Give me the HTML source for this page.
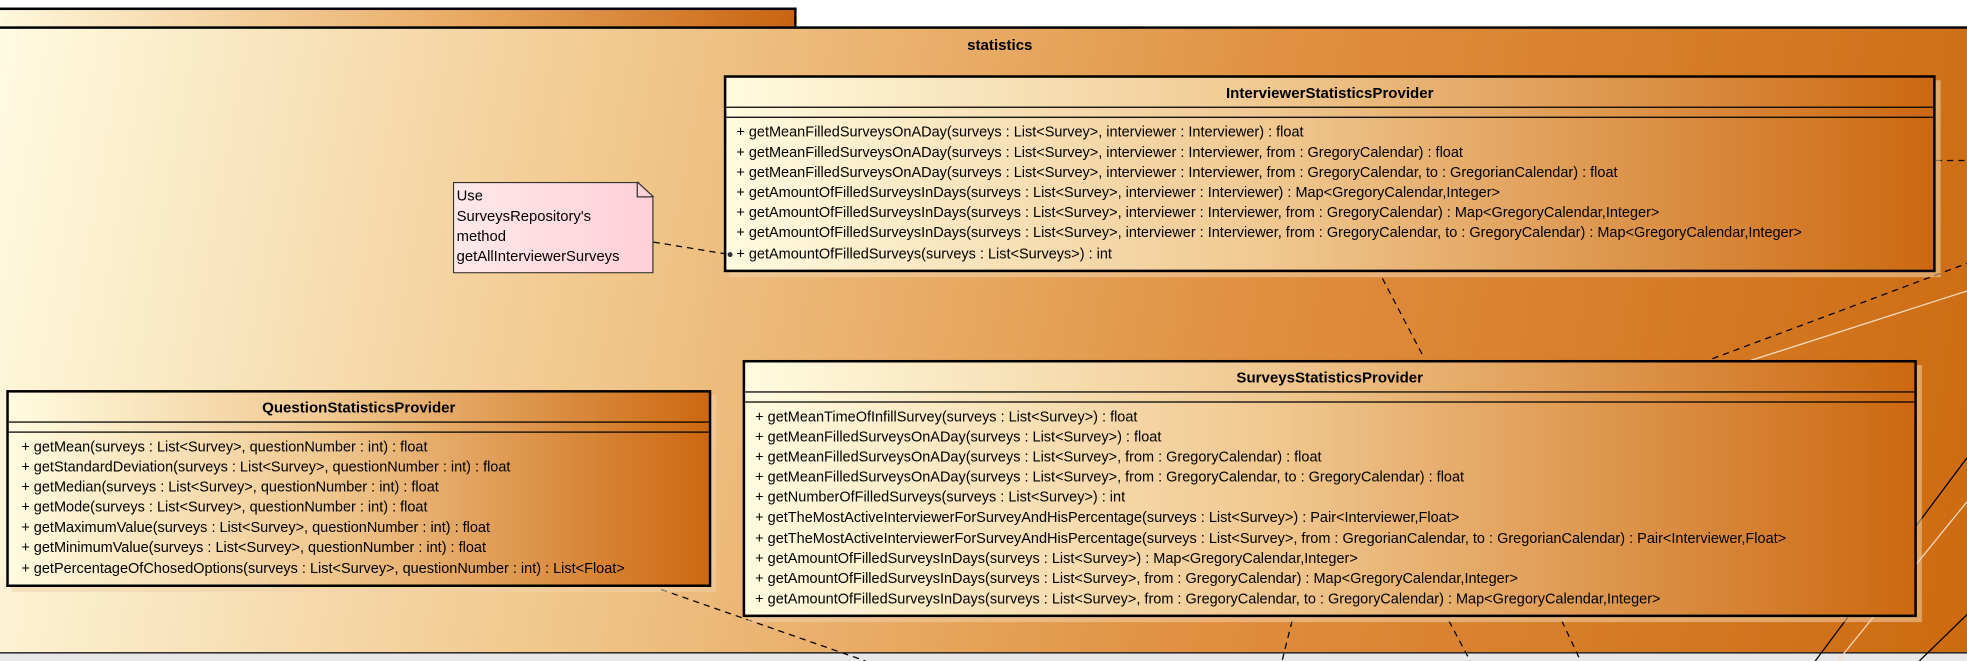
<!DOCTYPE html>
<html><head><meta charset="utf-8"><style>
html,body{margin:0;padding:0;width:1967px;height:661px;overflow:hidden;background:#fff}
#w{position:absolute;left:0;top:0;width:1568px;height:527px;transform-origin:0 0;transform:scale(1.25446,1.25427);font-family:"Liberation Sans",Arial,sans-serif}
.tab{position:absolute;left:-2px;top:6px;width:635px;height:14px;border:2px solid #000;border-left:none;border-bottom:none;background:linear-gradient(90deg,#fff8dc,#e8a860 60%,#c86410)}
.pkg{position:absolute;left:-2px;top:21px;width:1575px;height:497px;border-top:2px solid #000;border-bottom:2px solid #000;background:linear-gradient(100deg,#fffbe2 0%,#f0c68a 32%,#e09040 62%,#cc6a10 100%)}
.below{position:absolute;left:0;top:521px;width:1568px;height:6px;background:#e8e8e8}
.title{position:absolute;left:13px;width:1568px;top:29px;text-align:center;font-weight:bold;font-size:12px}
.box{position:absolute;border:2px solid #000;background:linear-gradient(90deg,#fffbe0 0%,#f0c890 45%,#cc6810 100%);box-shadow:4px 4px 0 rgba(240,210,170,.55)}
.box .h{height:23px;border-bottom:1px solid #000;text-align:center;font-weight:bold;font-size:12px;line-height:25px}
.box .a{height:7px;border-bottom:1px solid #000}
.box .m{padding:4px 0 0 8px;font-size:11.55px;line-height:16.1px;white-space:nowrap}
.note{position:absolute;left:361px;top:145px;width:160px;height:73px;background:linear-gradient(90deg,#ffe8ea,#ffd0d8);border:1px solid #333;font-size:11.8px;line-height:16px;padding:2px 0 0 2px;box-sizing:border-box;clip-path:polygon(0 0,148px 0,160px 12px,160px 100%,0 100%)}
svg{position:absolute;left:0;top:0}
</style></head><body><div id="w">
<div class="tab"></div>
<div class="pkg"></div>
<div class="below"></div>
<div class="title">statistics</div>
<svg width="1568" height="527">
<g stroke="#f5dcc0" stroke-width="1" fill="none">
<line x1="1568" y1="232" x2="1378" y2="293"/>
<line x1="1568" y1="400" x2="1465" y2="527"/>
</g>
<g stroke="#000" stroke-width="1" fill="none" stroke-dasharray="5,4">
<line x1="521" y1="193" x2="582" y2="203"/>
<line x1="1102" y1="222" x2="1135" y2="285"/>
<line x1="1365" y1="286" x2="1568" y2="210"/>
<line x1="1543" y1="128" x2="1568" y2="128"/>
<line x1="527" y1="470" x2="690" y2="527"/>
<line x1="1030" y1="495" x2="1022" y2="527"/>
<line x1="1155" y1="495" x2="1172" y2="527"/>
<line x1="1245" y1="495" x2="1260" y2="527"/>
</g>
<g stroke="#000" stroke-width="1">
<line x1="1568" y1="365" x2="1447" y2="527"/>
<line x1="1568" y1="490" x2="1530" y2="527"/>
</g>
</svg>
<div class="box" style="left:577px;top:60px;width:962px;height:153px">
<div class="h">InterviewerStatisticsProvider</div><div class="a"></div>
<div class="m">+ getMeanFilledSurveysOnADay(surveys : List&lt;Survey&gt;, interviewer : Interviewer) : float<br>+ getMeanFilledSurveysOnADay(surveys : List&lt;Survey&gt;, interviewer : Interviewer, from : GregoryCalendar) : float<br>+ getMeanFilledSurveysOnADay(surveys : List&lt;Survey&gt;, interviewer : Interviewer, from : GregoryCalendar, to : GregorianCalendar) : float<br>+ getAmountOfFilledSurveysInDays(surveys : List&lt;Survey&gt;, interviewer : Interviewer) : Map&lt;GregoryCalendar,Integer&gt;<br>+ getAmountOfFilledSurveysInDays(surveys : List&lt;Survey&gt;, interviewer : Interviewer, from : GregoryCalendar) : Map&lt;GregoryCalendar,Integer&gt;<br>+ getAmountOfFilledSurveysInDays(surveys : List&lt;Survey&gt;, interviewer : Interviewer, from : GregoryCalendar, to : GregoryCalendar) : Map&lt;GregoryCalendar,Integer&gt;<br>+ getAmountOfFilledSurveys(surveys : List&lt;Surveys&gt;) : int</div>
</div>
<div class="note">Use<br>SurveysRepository's<br>method<br>getAllInterviewerSurveys</div>
<svg width="1568" height="527"><path d="M508 145 L508 157 L521 157" fill="none" stroke="#333"/><line x1="508" y1="145" x2="521" y2="157" stroke="#333"/><circle cx="582" cy="203" r="2" fill="#333"/></svg>
<div class="box" style="left:592px;top:287px;width:932px;height:201px">
<div class="h">SurveysStatisticsProvider</div><div class="a"></div>
<div class="m">+ getMeanTimeOfInfillSurvey(surveys : List&lt;Survey&gt;) : float<br>+ getMeanFilledSurveysOnADay(surveys : List&lt;Survey&gt;) : float<br>+ getMeanFilledSurveysOnADay(surveys : List&lt;Survey&gt;, from : GregoryCalendar) : float<br>+ getMeanFilledSurveysOnADay(surveys : List&lt;Survey&gt;, from : GregoryCalendar, to : GregoryCalendar) : float<br>+ getNumberOfFilledSurveys(surveys : List&lt;Survey&gt;) : int<br>+ getTheMostActiveInterviewerForSurveyAndHisPercentage(surveys : List&lt;Survey&gt;) : Pair&lt;Interviewer,Float&gt;<br>+ getTheMostActiveInterviewerForSurveyAndHisPercentage(surveys : List&lt;Survey&gt;, from : GregorianCalendar, to : GregorianCalendar) : Pair&lt;Interviewer,Float&gt;<br>+ getAmountOfFilledSurveysInDays(surveys : List&lt;Survey&gt;) : Map&lt;GregoryCalendar,Integer&gt;<br>+ getAmountOfFilledSurveysInDays(surveys : List&lt;Survey&gt;, from : GregoryCalendar) : Map&lt;GregoryCalendar,Integer&gt;<br>+ getAmountOfFilledSurveysInDays(surveys : List&lt;Survey&gt;, from : GregoryCalendar, to : GregoryCalendar) : Map&lt;GregoryCalendar,Integer&gt;</div>
</div>
<div class="box" style="left:5px;top:311px;width:558px;height:153px">
<div class="h">QuestionStatisticsProvider</div><div class="a"></div>
<div class="m" style="padding-left:10px">+ getMean(surveys : List&lt;Survey&gt;, questionNumber : int) : float<br>+ getStandardDeviation(surveys : List&lt;Survey&gt;, questionNumber : int) : float<br>+ getMedian(surveys : List&lt;Survey&gt;, questionNumber : int) : float<br>+ getMode(surveys : List&lt;Survey&gt;, questionNumber : int) : float<br>+ getMaximumValue(surveys : List&lt;Survey&gt;, questionNumber : int) : float<br>+ getMinimumValue(surveys : List&lt;Survey&gt;, questionNumber : int) : float<br>+ getPercentageOfChosedOptions(surveys : List&lt;Survey&gt;, questionNumber : int) : List&lt;Float&gt;</div>
</div>
</div></body></html>
